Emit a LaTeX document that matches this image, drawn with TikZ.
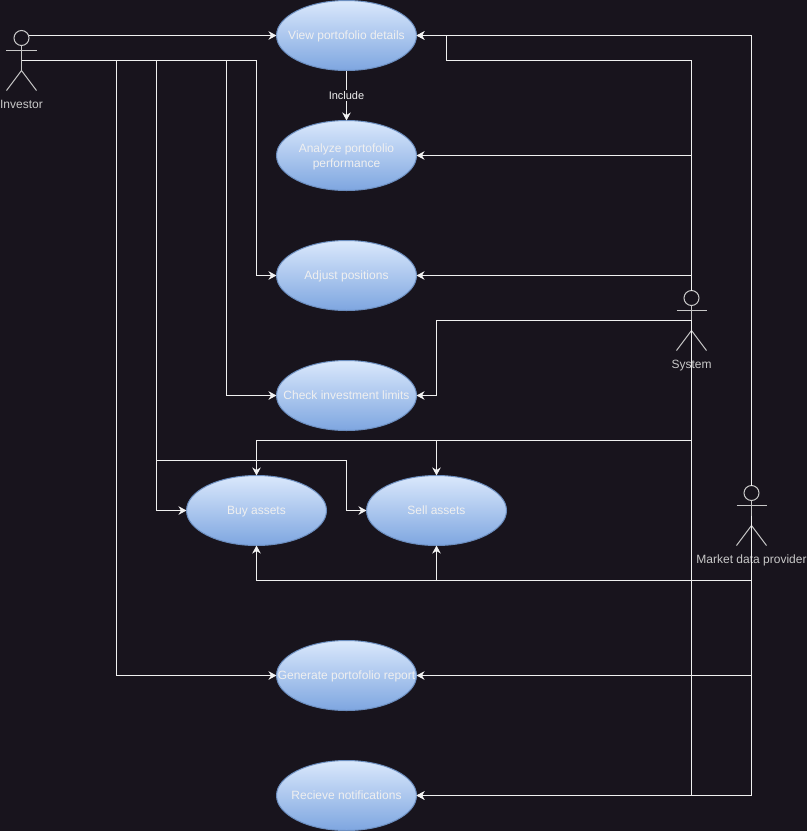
\documentclass[tikz,border=0pt]{standalone}
\usepackage{fontspec}
\setmainfont{Liberation Sans}
\usetikzlibrary{arrows.meta}
\usetikzlibrary{shapes.geometric}
\definecolor{bgdark}{HTML}{18141D}
\definecolor{linelight}{HTML}{F0F0F0}
\definecolor{actorgrey}{HTML}{C8C8C8}
\definecolor{casetop}{HTML}{DAE8FC}
\definecolor{casebottom}{HTML}{7EA6E0}
\definecolor{caseedge}{HTML}{6C8EBF}
\tikzset{
    usecase/.style={ellipse, draw=caseedge, line width=1pt, top color=casetop, bottom color=casebottom,
        minimum width=140pt, minimum height=70pt, inner sep=0pt, outer sep=0pt, text=linelight},
    actorbox/.style={rectangle, minimum width=30pt, minimum height=60pt, inner sep=0pt, outer sep=0pt},
    actorline/.style={draw=actorgrey, line width=1pt},
    actorlabel/.style={text=actorgrey, inner sep=0pt, text height=9pt, text depth=3pt},
    link/.style={draw=linelight, line width=1pt, -{Stealth[length=8pt,width=8.5pt,inset=2.5pt]}},
    plainlink/.style={draw=linelight, line width=1pt}
}
\begin{document}
\begin{tikzpicture}[x=1pt, y=-1pt, font=\fontsize{12}{15}\selectfont]
        \useasboundingbox (-0.5,-0.5) rectangle (806.5,830.5);
        \fill[bgdark] (-0.5,-0.5) rectangle (806.5,830.5);
        \foreach \name/\x/\y/\txt in {
            view/346/35/View portofolio details,
            analyze/346/155/{\rule[-16pt]{0pt}{40pt}\parbox{130pt}{\centering Analyze portofolio\\performance}},
            adjust/346/275/Adjust positions,
            check/346/395/Check investment limits,
            buy/256/510/Buy assets,
            sell/436/510/Sell assets,
            report/346/675/Generate portofolio report,
            notify/346/795/Recieve notifications}
        {
            \node[usecase] (\name) at (\x,\y) {\makebox[0pt]{\rule[-4pt]{0pt}{16pt}\txt}};
        }
        \foreach \name/\x/\y/\txt in {
            investor/21/60/Investor,
            system/691/320/System,
            market/751/515/Market data provider}
        {
            \node[actorbox] (\name) at (\x,\y) {};
            \draw[actorline] (\x,\y-22.5) circle (7.5);
            \draw[actorline] (\x-15,\y-10) -- (\x+15,\y-10);
            \draw[actorline] (\x,\y-15) -- (\x,\y+10);
            \draw[actorline] (\x-15,\y+30) -- (\x,\y+10) -- (\x+15,\y+30);
            \node[actorlabel] (\name label) at (\x,\y+44.5) {\txt};
        }
        \coordinate (investorhead) at (28,35);
        \draw[link] (investorhead) -- (view.west);
        \draw[link] (investor.center) -| (256,275) -- (adjust.west);
        \draw[link] (investor.center) -| (226,395) -- (check.west);
        \draw[link] (investor.center) -| (156,510) -- (buy.west);
        \draw[link] (156,460) -| (346,510) -- (sell.west);
        \draw[link] (116,60) |- (report.west);
        \draw[plainlink] (view.south) -- (346,95);
        \draw[link] (346,95) -- (analyze.north);
        \node[fill=bgdark, text=linelight, inner sep=1pt, font=\fontsize{11}{15}\selectfont] (include) at (346,95) {Include};
        \draw[link] (system.north) |- (446,60) |- (view.east);
        \draw[link] (691,155) -- (analyze.east);
        \draw[link] (691,275) -- (adjust.east);
        \draw[link] (system.center) -| (436,395) -- (check.east);
        \draw[link] (system.center) |- (256,440) -- (buy.north);
        \draw[link] (436,440) -- (sell.north);
        \draw[link] (system.center) |- (notify.east);
        \draw[link] (market.north) |- (view.east);
        \draw[link] (market.center) |- (256,580) -- (buy.south);
        \draw[link] (436,580) -- (sell.south);
        \draw[link] (751,675) -- (report.east);
        \draw[link] (market.center) |- (notify.east);
    \end{tikzpicture}
\end{document}
